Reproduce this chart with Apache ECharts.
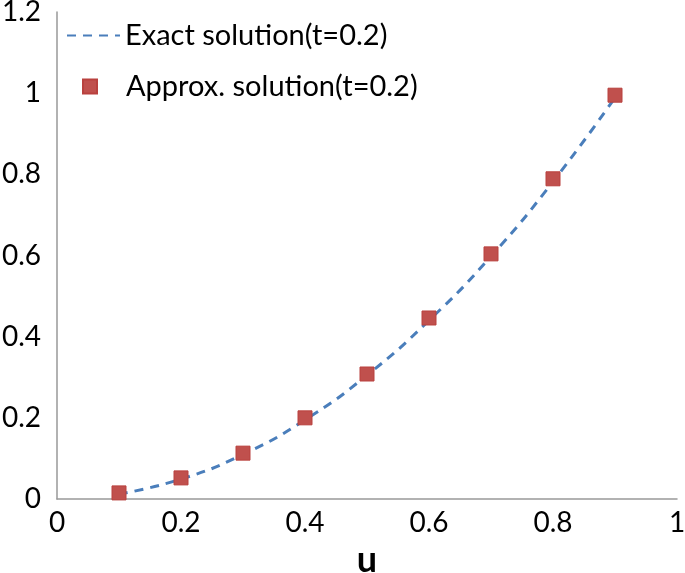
<!DOCTYPE html>
<html><head><meta charset="utf-8">
<script src="https://cdn.jsdelivr.net/npm/echarts@6/dist/echarts.min.js"></script>
<style>html,body{margin:0;padding:0;background:#fff}#c{width:685px;height:573px}</style>
</head><body><div id="c"></div>
<script>
const uValues = [0.1, 0.2, 0.3, 0.4, 0.5, 0.6, 0.7, 0.8, 0.9];
const exactValues = [0.012, 0.049, 0.110, 0.195, 0.305, 0.440, 0.598, 0.782, 0.989];
const approxValues = [0.015, 0.052, 0.113, 0.200, 0.308, 0.446, 0.604, 0.789, 0.995];
const xTicks = [0, 0.2, 0.4, 0.6, 0.8, 1];
const yTicks = [0, 0.2, 0.4, 0.6, 0.8, 1, 1.2];
const exactName = 'Exact solution(t=0.2)';
const approxName = 'Approx. solution(t=0.2)';

const font = 'Lato, "Open Sans", sans-serif';
const chart = echarts.init(document.getElementById('c'), null, {renderer: 'canvas'});
chart.setOption({
  animation: false,
  backgroundColor: '#fff',
  textStyle: {fontFamily: font},
  grid: {left: 57, right: 8, top: 12, bottom: 74, containLabel: false, outerBoundsMode: 'none'},
  legend: [
    {data: [exactName], left: 66, top: 21, padding: 0, itemWidth: 53, itemHeight: 14,
     itemStyle: {opacity: 0},
     textStyle: {fontSize: 29, color: '#000', fontFamily: font}},
    {data: [approxName], left: 82, top: 72, padding: 0, itemWidth: 14, itemHeight: 14,
     textStyle: {fontSize: 29, color: '#000', fontFamily: font, padding: [0,0,0,24]}}
  ],
  xAxis: {
    type: 'value', min: 0, max: 1, interval: 0.2,
    name: 'u', nameLocation: 'middle', nameGap: 27,
    nameTextStyle: {fontSize: 36, fontWeight: 'bold', color: '#000', fontFamily: font, verticalAlign: 'top', lineHeight: 36},
    axisLine: {show: true, lineStyle: {color: '#999', width: 1.5}},
    axisTick: {show: false},
    splitLine: {show: false},
    axisLabel: {fontSize: 28, color: '#000', margin: 10, fontFamily: font,
      formatter: v => xTicks.includes(+v.toFixed(1)) ? String(+v.toFixed(1)) : ''}
  },
  yAxis: {
    type: 'value', min: 0, max: 1.2, interval: 0.2,
    axisLine: {show: true, lineStyle: {color: '#999', width: 1.5}},
    axisTick: {show: false},
    splitLine: {show: false},
    axisLabel: {fontSize: 28, color: '#000', margin: 16, fontFamily: font,
      formatter: v => yTicks.includes(+v.toFixed(1)) ? String(+v.toFixed(1)) : ''}
  },
  series: [
    {name: exactName, type: 'line', smooth: true, symbol: 'none',
     data: uValues.map((u, i) => [u, exactValues[i]]),
     lineStyle: {color: '#4a7ebb', width: 3, type: [9, 7]},
     itemStyle: {color: '#4a7ebb'}, z: 2},
    {name: approxName, type: 'scatter', symbol: 'rect', symbolSize: 14,
     data: uValues.map((u, i) => [u, approxValues[i]]),
     itemStyle: {color: '#c0504d', borderColor: '#b9413e', borderWidth: 1, opacity: 1}, z: 3}
  ]
});
</script></body></html>
